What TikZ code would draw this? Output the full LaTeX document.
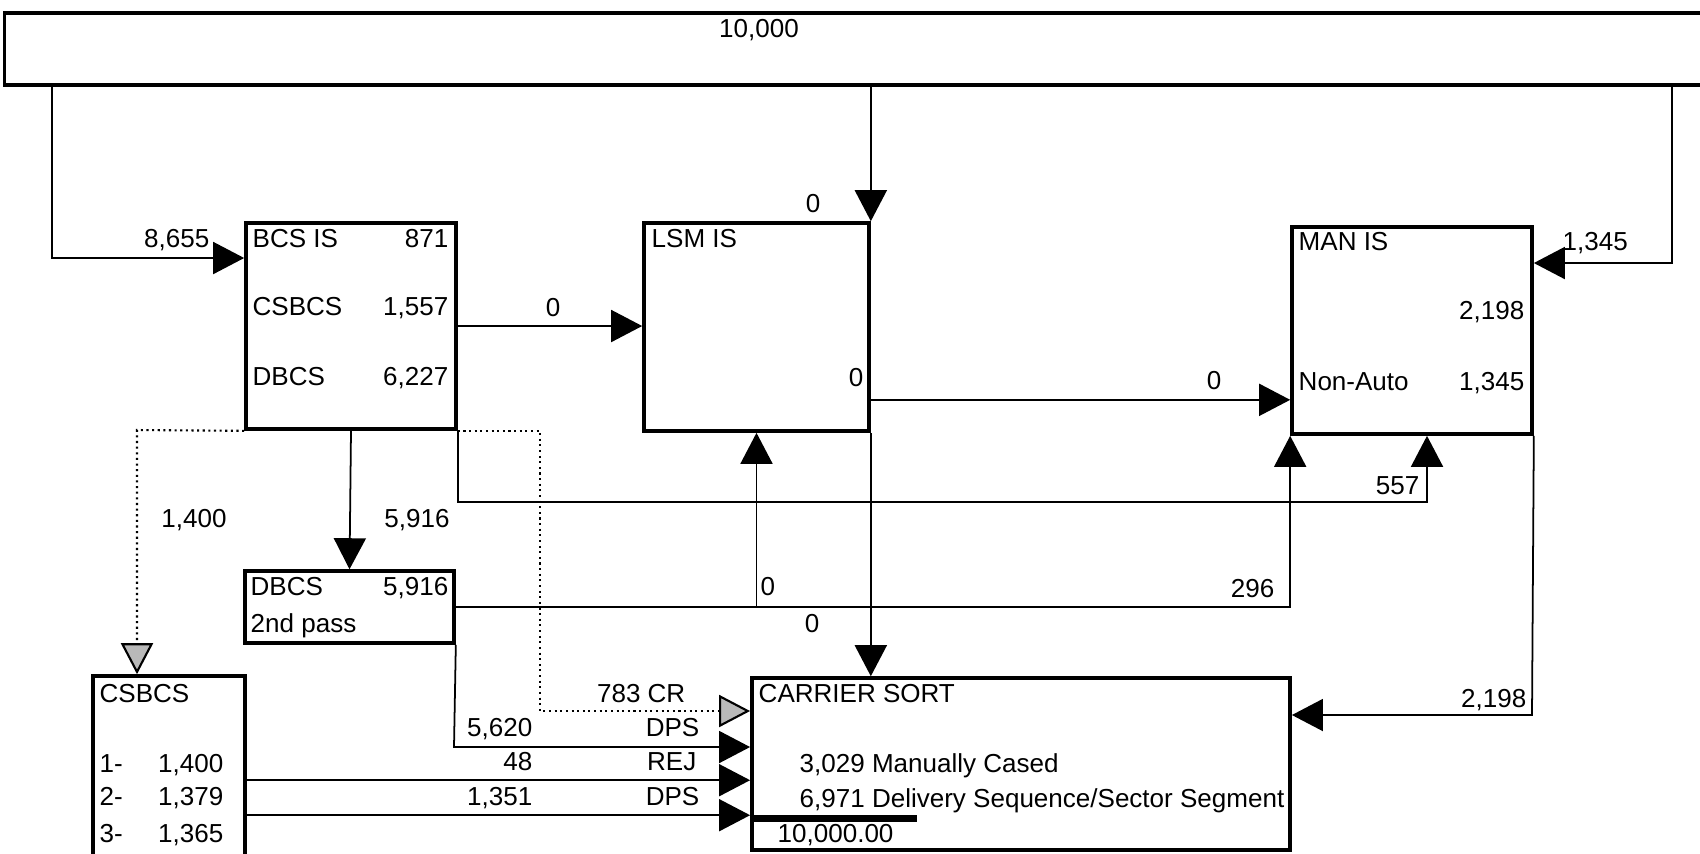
\documentclass[tikz,border=0pt]{standalone}
\usepackage{fontspec}
\setmainfont{Liberation Sans}
\usepackage{tikz}
\usetikzlibrary{arrows.meta, positioning, calc}
\newcommand{\flowfont}{\fontsize{7.4}{8.5}\selectfont}

\begin{document}
\begin{tikzpicture}[
  x=0.01cm, y=-0.01cm,
  stage/.style={draw, line width=1pt, inner sep=0pt},
  val/.style={inner sep=0pt, font=\flowfont, text height=1.9mm, text depth=0.5mm},
  flow/.style={line width=0.5pt, -{Triangle[length=3.1mm, width=3.2mm]}},
  flowdot/.style={line width=0.6pt, densely dotted, -{Triangle[length=3.1mm, width=3.2mm, fill=gray!55]}},
]
  \useasboundingbox (0,0) rectangle (1700,853);

  % Stages
  \node[stage, minimum width=17.05cm, minimum height=0.72cm] (src) at (857.5,49) {};
  \node[stage, minimum width=2.10cm, minimum height=2.06cm] (bcs) at (351,326) {};
  \node[stage, minimum width=2.25cm, minimum height=2.08cm] (lsm) at (756.5,327) {};
  \node[stage, minimum width=2.40cm, minimum height=2.07cm] (man) at (1412,330.5) {};
  \node[stage, minimum width=2.09cm, minimum height=0.72cm] (dbcs) at (349.5,607) {};
  \node[stage, minimum width=1.52cm, minimum height=1.94cm] (csbcs) at (169,773) {};
  \node[stage, minimum width=5.38cm, minimum height=1.72cm] (cs) at (1021,764) {};

  % Stage contents
  \node[val] (srcT) at (759,30) {10,000};

  \node[val, anchor=west] (bcsT) at (252,240) {BCS IS};
  \node[val, anchor=east] (bcsN) at (449,240) {871};
  \node[val, anchor=west] (bcsT2) at (252,308) {CSBCS};
  \node[val, anchor=east] (bcsN2) at (449,308) {1,557};
  \node[val, anchor=west] (bcsT3) at (252,378) {DBCS};
  \node[val, anchor=east] (bcsN3) at (449,378) {6,227};

  \node[val, anchor=west] (lsmT) at (651,240) {LSM IS};
  \node[val, anchor=east] (lsmN) at (864,379) {0};

  \node[val, anchor=west] (manT) at (1298,243) {MAN IS};
  \node[val, anchor=east] (manN) at (1525,312) {2,198};
  \node[val, anchor=west] (manT2) at (1298,383) {Non-Auto};
  \node[val, anchor=east] (manN2) at (1525,383) {1,345};

  \node[val, anchor=west] (dbcsT) at (250,588) {DBCS};
  \node[val, anchor=east] (dbcsN) at (449,588) {5,916};
  \node[val, anchor=west] (dbcsT2) at (250,625) {2nd pass};

  \node[val, anchor=west] (csbcsT) at (99,695) {CSBCS};
  \foreach \i/\y/\n in {1/765/{1,400}, 2/798/{1,379}, 3/835/{1,365}} {
    \node[val, anchor=west] (csbcsK\i) at (99,\y) {\i-};
    \node[val, anchor=east] (csbcsN\i) at (224,\y) {\n};
  }

  \node[val, anchor=west] (csT) at (758,695) {CARRIER SORT};
  \node[val, anchor=west] (csMan) at (799,765) {3,029 Manually Cased};
  \node[val, anchor=west] (csDps) at (799,800) {6,971 Delivery Sequence/Sector Segment};
  \node[val, anchor=west] (csSum) at (777,835) {10,000.00};
  \coordinate (sumEnd) at (917,818);
  \draw[line width=2pt] (cs.west |- sumEnd) -- (sumEnd);

  % Flows from the top
  \coordinate (k1) at (52,258);
  \draw[flow] (k1 |- src.south) -- (k1) -- (k1 -| bcs.west);
  \node[val, anchor=east] (f8655) at (210,240) {8,655};

  \draw[flow] (lsm.north east |- src.south) -- (lsm.north east);
  \node[val] (f0a) at (813,205) {0};

  \coordinate (k2) at (1672,263);
  \draw[flow] (k2 |- src.south) -- (k2) -- (k2 -| man.east);
  \node[val, anchor=west] (f1345) at (1562,243) {1,345};

  % BCS IS outputs
  \draw[flow] (bcs.east) -- (bcs.east -| lsm.west);
  \node[val] (f0b) at (553,309) {0};

  \coordinate (k4) at (1427,502);
  \draw[flow] (bcs.south east) -- (bcs.south east |- k4) -- (k4) -- (k4 |- man.south);
  \node[val, anchor=east] (f557) at (1420,487) {557};

  \coordinate (k5) at (137,430);
  \draw[flowdot] (bcs.south west) -- (k5) -- (k5 |- csbcs.north);
  \node[val] (f1400) at (194,520) {1,400};

  \draw[flow] (bcs.south) -- (dbcs.north);
  \node[val] (f5916) at (417,520) {5,916};

  \coordinate (k6) at (540,711);
  \draw[flowdot] (bcs.south east) -- (k6 |- bcs.south) -- (k6) -- (k6 -| cs.west);
  \node[val, anchor=east] (f783) at (686,695) {783 CR};

  % LSM IS outputs
  \coordinate (k3) at ($(lsm.south east)+(0,-33)$);
  \draw[flow] (k3) -- (k3 -| man.west);
  \node[val] (f0c) at (1214,382) {0};

  \draw[flow] (lsm.south east) -- (lsm.south east |- cs.north);
  \node[val] (f0d) at (812,625) {0};

  % DBCS 2nd pass outputs
  \draw[flow] (dbcs.east) -- (dbcs.east -| man.south west) -- (man.south west);
  \draw[flow] (dbcs.east -| lsm.south) -- (lsm.south);
  \node[val, anchor=west] (f0e) at (760,588) {0};
  \node[val, anchor=east] (f296) at (1275,590) {296};

  \coordinate (k7) at (454,747);
  \draw[flow] (dbcs.south east) -- (k7) -- (k7 -| cs.west);
  \node[val, anchor=east] (f5620) at (533,729) {5,620};
  \node[val, anchor=east] (fDps1) at (700,729) {DPS};

  % CSBCS outputs
  \coordinate (rej) at ($(csbcs.north east)+(0,106)$);
  \draw[flow] (rej) -- (rej -| cs.west);
  \node[val, anchor=east] (f48) at (533,763) {48};
  \node[val, anchor=east] (fRej) at (697,763) {REJ};

  \coordinate (dps) at ($(csbcs.north east)+(0,141)$);
  \draw[flow] (dps) -- (dps -| cs.west);
  \node[val, anchor=east] (f1351) at (533,798) {1,351};
  \node[val, anchor=east] (fDps2) at (700,798) {DPS};

  % MAN IS output
  \coordinate (k9) at (1532,715);
  \draw[flow] (man.south east) -- (k9) -- (k9 -| cs.east);
  \node[val, anchor=east] (f2198) at (1527,700) {2,198};

\end{tikzpicture}
\end{document}
